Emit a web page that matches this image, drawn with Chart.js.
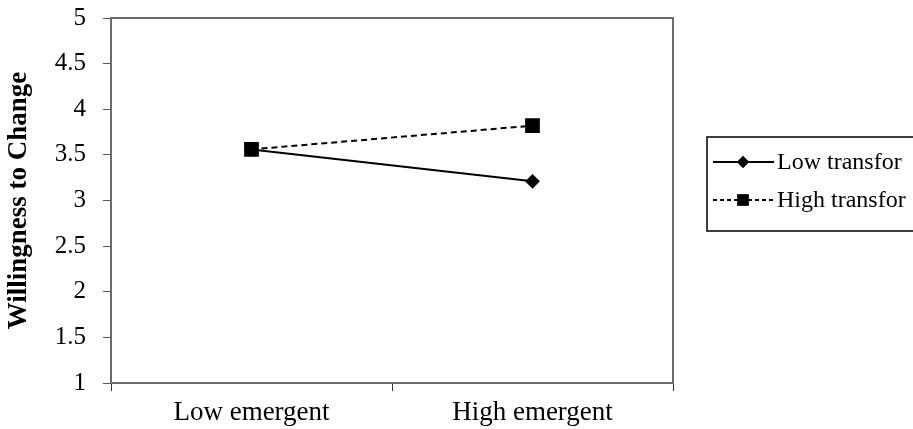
<!DOCTYPE html>
<html>
<head>
<meta charset="utf-8">
<script src="https://cdn.jsdelivr.net/npm/chart.js@4"></script>
<style>
  html, body { margin: 0; padding: 0; background: #fff; }
</style>
</head>
<body>
<canvas id="grafico" width="913" height="429"></canvas>
<script>

var categorias = ["Low emergent", "High emergent"];
var lowTransfor = [3.56, 3.21];
var highTransfor = [3.56, 3.82];
var nomesSeries = ["Low transfor", "High transfor"];
var tituloY = "Willingness to Change";

var fonte = "'Liberation Serif', 'Times New Roman', serif";

// moldura da area do grafico
var moldura = {
	id: 'moldura',
	beforeDatasetsDraw: function(chart){
		var a = chart.chartArea, ctx = chart.ctx;
		ctx.save();
		ctx.strokeStyle = '#6b6b6b';
		ctx.lineWidth = 2;
		ctx.strokeRect(a.left, a.top, a.right - a.left, a.bottom - a.top);
		ctx.restore();
	}
};

// legenda desenhada a mao (linha + marcador)
var legenda = {
	id: 'legenda',
	afterDraw: function(chart){
		var ctx = chart.ctx;
		ctx.save();
		ctx.strokeStyle = '#000';
		ctx.lineWidth = 1.5;
		ctx.strokeRect(707, 137, 220, 94);

		var linhas = [
			{y: 162, dash: [], estilo: 'rectRot', raio: 6},
			{y: 200, dash: [4, 3], estilo: 'rect', raio: 8}
		];
		linhas.forEach(function(l, i){
			ctx.beginPath();
			ctx.setLineDash(l.dash);
			ctx.lineWidth = 2;
			ctx.moveTo(713, l.y);
			ctx.lineTo(774, l.y);
			ctx.stroke();
			ctx.setLineDash([]);
			ctx.fillStyle = '#000';
			Chart.helpers.drawPoint(ctx, {pointStyle: l.estilo, radius: l.raio, borderWidth: 0}, 743, l.y);
			ctx.fill();
			ctx.font = '24px ' + fonte;
			ctx.textBaseline = 'middle';
			ctx.textAlign = 'left';
			ctx.fillText(nomesSeries[i], 777, l.y + 1);
		});
		ctx.restore();
	}
};

function exibirGrafico(){

	var data = {
		labels: categorias,
		datasets: [
			{
				label: nomesSeries[0],
				data: lowTransfor,
				borderColor: '#000',
				backgroundColor: '#000',
				borderWidth: 2,
				pointStyle: 'rectRot',
				pointRadius: 6,
				pointHoverRadius: 6,
				order: 1,
				tension: 0
			},
			{
				label: nomesSeries[1],
				data: highTransfor,
				borderColor: '#000',
				backgroundColor: '#000',
				borderWidth: 2,
				borderDash: [6, 4],
				pointStyle: 'rect',
				pointRadius: 9,
				pointHoverRadius: 9,
				order: 0,
				tension: 0
			}
		]
	};

	var options = {
		responsive: false,
		animation: false,
		devicePixelRatio: 1,
		layout: { padding: { left: 0, top: 18, right: 240, bottom: 0 } },
		plugins: {
			legend: { display: false },
			tooltip: { enabled: false }
		},
		scales: {
			x: {
				offset: true,
				afterFit: function(s){ s.height = 46; s.paddingLeft = 0; s.paddingRight = 0; },
				grid: { offset: true, drawOnChartArea: false, tickLength: 8, color: '#333', lineWidth: 1 },
				border: { display: false },
				ticks: { color: '#000', padding: 6, font: { family: fonte, size: 27 } }
			},
			y: {
				min: 1,
				max: 5,
				afterFit: function(s){ s.width = 111; s.paddingTop = 0; s.paddingBottom = 0; },
				grid: { drawOnChartArea: false, tickLength: 8, color: '#555', lineWidth: 1 },
				border: { display: false },
				ticks: {
					stepSize: 0.5,
					color: '#000',
					padding: 17,
					font: { family: fonte, size: 25 },
					callback: function(v){ return String(v); }
				},
				title: {
					display: true,
					text: tituloY,
					color: '#000',
					padding: { top: 3, bottom: 0 },
					font: { family: fonte, size: 27, weight: 'bold' }
				}
			}
		}
	};

	var ctx = document.getElementById("grafico").getContext("2d");
	new Chart(ctx, { type: 'line', data: data, options: options, plugins: [moldura, legenda] });
}

exibirGrafico();
</script>
</body>
</html>
